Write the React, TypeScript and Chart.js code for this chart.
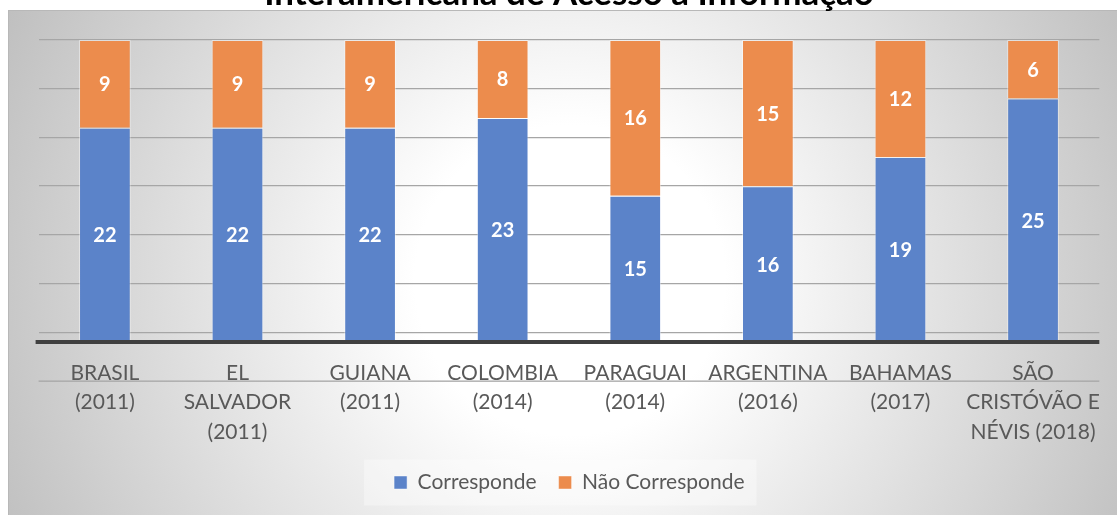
import { useEffect, useRef } from "react";
import { Chart, registerables } from "chart.js";

Chart.register(...registerables);

const titleText = "Interamericana de Acesso à Informação";
const categories: string[][] = [
  ["BRASIL", "(2011)"],
  ["EL", "SALVADOR", "(2011)"],
  ["GUIANA", "(2011)"],
  ["COLOMBIA", "(2014)"],
  ["PARAGUAI", "(2014)"],
  ["ARGENTINA", "(2016)"],
  ["BAHAMAS", "(2017)"],
  ["SÃO", "CRISTÓVÃO E", "NÉVIS (2018)"],
];
const seriesNames = ["Corresponde", "Não Corresponde"];
const corresponde = [22, 22, 22, 23, 15, 16, 19, 25];
const naoCorresponde = [9, 9, 9, 8, 16, 15, 12, 6];
const gridValues = [1, 6, 11, 16, 21, 26, 31];
const lowerGridValue = -4;
const axisMax = 31;

const FONT = "Lato, 'Noto Sans', sans-serif";

const backgroundPlugin = {
  id: "bgPlugin",
  beforeDraw(chart: any) {
    const { ctx, width, height, chartArea, scales } = chart;
    ctx.save();
    ctx.fillStyle = "#ffffff";
    ctx.fillRect(0, 0, width, height);
    const cx = 570;
    const cy = 280;
    const g = ctx.createRadialGradient(cx, cy, 0, cx, cy, 620);
    g.addColorStop(0, "#ffffff");
    g.addColorStop(0.25, "#ffffff");
    g.addColorStop(1, "#c0c0c0");
    ctx.fillStyle = g;
    ctx.fillRect(8, 10, width - 8, height - 10);
    ctx.fillStyle = "#b8b8b8";
    ctx.fillRect(8, 10, width - 8, 1);
    ctx.fillRect(8, 10, 1, height - 10);

    // lower gridline crossing the labels
    const yl = scales.y.getPixelForValue(lowerGridValue);
    ctx.fillStyle = "#a6a6a6";
    ctx.fillRect(chartArea.left, Math.round(yl) - 0.5, chartArea.right - chartArea.left, 1.3);

    // legend background
    const lg = chart.legend;
    if (lg && lg.legendHitBoxes && lg.legendHitBoxes.length) {
      const hb = lg.legendHitBoxes;
      const first = hb[0];
      const last = hb[hb.length - 1];
      const cyL = first.top + first.height / 2;
      ctx.fillStyle = "rgba(255,255,255,0.35)";
      ctx.fillRect(first.left - 30, cyL - 23, last.left + last.width + 12 - (first.left - 30), 46);
    }

    // title (cut at top)
    let size = 30;
    ctx.font = `bold ${size}px ${FONT}`;
    const w = ctx.measureText(titleText).width;
    size = (size * 610) / w;
    ctx.font = `bold ${size}px ${FONT}`;
    ctx.fillStyle = "#000000";
    ctx.textAlign = "center";
    ctx.textBaseline = "alphabetic";
    ctx.fillText(titleText, (chartArea.left + chartArea.right) / 2, 5);
    ctx.restore();
  },
};

const overlayPlugin = {
  id: "overlayPlugin",
  afterDatasetsDraw(chart: any) {
    const { ctx, chartArea, scales } = chart;
    ctx.save();
    const y0 = scales.y.getPixelForValue(0);
    ctx.fillStyle = "#404040";
    ctx.fillRect(chartArea.left - 3, y0 - 2, chartArea.right - chartArea.left + 3, 4);

    ctx.fillStyle = "#ffffff";
    ctx.font = `bold 20px ${FONT}`;
    ctx.textAlign = "center";
    ctx.textBaseline = "middle";
    chart.data.datasets.forEach((ds: any, i: number) => {
      const meta = chart.getDatasetMeta(i);
      meta.data.forEach((bar: any, j: number) => {
        const p = bar.getProps(["x", "y", "base"], true);
        ctx.fillText(String(ds.data[j]), p.x, (p.y + p.base) / 2 + 1);
      });
    });
    ctx.restore();
  },
};

export default function App() {
  const ref = useRef<HTMLCanvasElement>(null);
  useEffect(() => {
    document.body.style.margin = "0";
    const canvas = ref.current;
    if (!canvas) return;
    const chart = new Chart(canvas, {
      type: "bar",
      data: {
        labels: categories,
        datasets: [
          {
            label: seriesNames[0],
            data: corresponde,
            backgroundColor: "#5b83c9",
            borderColor: "rgba(255,255,255,0.45)",
            borderWidth: 1,
          },
          {
            label: seriesNames[1],
            data: naoCorresponde,
            backgroundColor: "#ec8c4d",
            borderColor: "rgba(255,255,255,0.45)",
            borderWidth: 1,
          },
        ],
      },
      options: {
        animation: false,
        responsive: true,
        maintainAspectRatio: false,
        layout: { padding: { top: 40, left: 38.6, right: 17, bottom: 12 } },
        datasets: { bar: { categoryPercentage: 0.39, barPercentage: 1 } },
        scales: {
          x: {
            stacked: true,
            grid: { display: false, drawTicks: false },
            border: { display: false },
            ticks: {
              color: "#595959",
              font: { family: FONT, size: 21, lineHeight: 1.42 },
              padding: 16,
              maxRotation: 0,
              autoSkip: false,
            },
            afterFit(scale: any) {
              scale.height = 108;
            },
          },
          y: {
            stacked: true,
            min: 0,
            max: axisMax,
            afterBuildTicks(scale: any) {
              scale.ticks = gridValues.map((v) => ({ value: v }));
            },
            grid: { color: "#a6a6a6", lineWidth: 1.3, drawTicks: false },
            border: { display: false },
            ticks: { display: false },
            afterFit(scale: any) {
              scale.width = 0;
            },
          },
        },
        plugins: {
          title: { display: false },
          tooltip: { enabled: false },
          legend: {
            position: "bottom",
            labels: {
              color: "#595959",
              font: { family: FONT, size: 21 },
              boxWidth: 13,
              boxHeight: 13,
              padding: 22,
            },
          },
        },
      },
      plugins: [backgroundPlugin, overlayPlugin],
    });
    return () => chart.destroy();
  }, []);
  return (
    <div style={{ width: 1117, height: 515, position: "relative" }}>
      <canvas ref={ref} />
    </div>
  );
}
